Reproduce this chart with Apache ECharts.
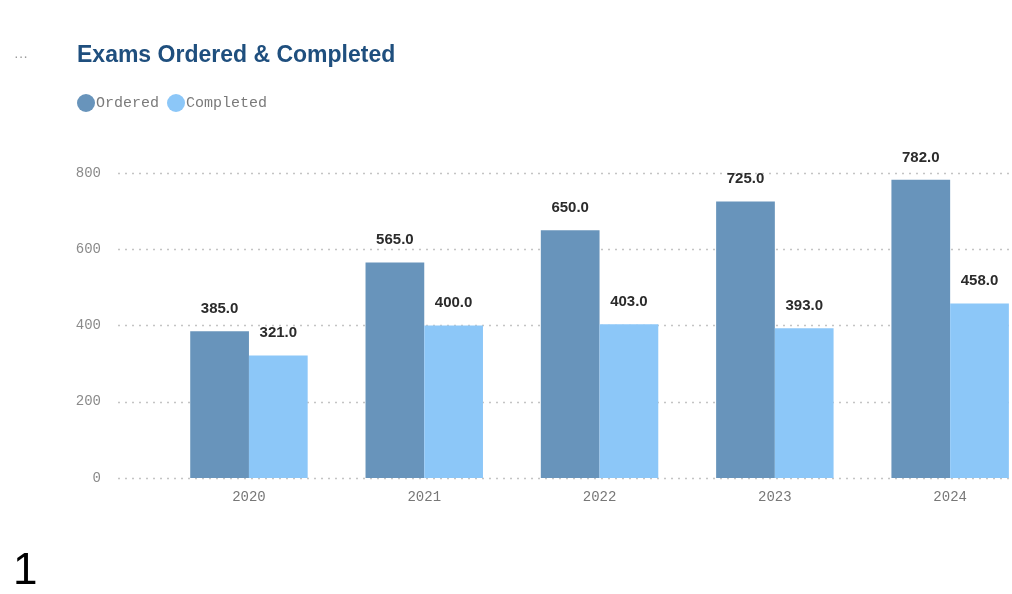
<!DOCTYPE html>
<html>
<head>
<meta charset="utf-8">
<title>Exams Ordered &amp; Completed</title>
<script src="https://cdn.jsdelivr.net/npm/echarts@6/dist/echarts.min.js"></script>
<style>
  html, body { margin: 0; padding: 0; background: #ffffff; overflow: hidden; width: 1012px; height: 594px; }
  /* the plot runs on past the right edge of the window */
  #chart { width: 1040px; height: 594px; }
</style>
</head>
<body>
<div id="chart"></div>
<script>
// Yearly exam counts
const years = ['2020', '2021', '2022', '2023', '2024'];
const ordered = [385, 565, 650, 725, 782];
const completed = [321, 400, 403, 393, 458];
const yTicks = [0, 200, 400, 600, 800];

const COLOR_ORDERED = '#6894bb';
const COLOR_COMPLETED = '#8cc7f8';
const MONO = '"Liberation Mono", "Courier New", monospace';
const SANS = '"Liberation Sans", Arial, sans-serif';

const chart = echarts.init(document.getElementById('chart'), null, { renderer: 'canvas' });

const valueLabel = {
  show: true,
  position: 'top',
  distance: 15,
  fontFamily: SANS,
  fontWeight: 'bold',
  fontSize: 15,
  color: '#2b2b2b',
  formatter: p => p.value.toFixed(1)
};

chart.setOption({
  animation: false,
  backgroundColor: '#ffffff',
  title: {
    text: 'Exams Ordered & Completed',
    left: 72,
    top: 39,
    textStyle: { fontFamily: SANS, fontWeight: 'bold', fontSize: 23, color: '#1f4f7e' }
  },
  legend: {
    left: 72,
    top: 89,
    icon: 'circle',
    itemWidth: 18,
    itemHeight: 18,
    itemGap: 8,
    textStyle: { fontFamily: MONO, fontSize: 15, color: '#7a7a7a', padding: [0, 0, 0, -4] },
    data: ['Ordered', 'Completed']
  },
  grid: [
    // bars
    { left: 161.3, right: 2.2, top: 173, bottom: 116, containLabel: false },
    // gridlines and value labels, wider than the bar area
    { left: 118, right: 2.2, top: 173, bottom: 116, containLabel: false }
  ],
  xAxis: [
    {
      type: 'category',
      gridIndex: 0,
      data: years,
      axisLine: { show: false },
      axisTick: { show: false },
      axisLabel: { fontFamily: MONO, fontSize: 14, color: '#777777', margin: 12 }
    },
    { type: 'value', gridIndex: 1, show: false, min: 0, max: 1 }
  ],
  yAxis: [
    { type: 'value', gridIndex: 0, min: 0, max: 800, interval: 200, show: false },
    {
      type: 'value',
      gridIndex: 1,
      min: yTicks[0],
      max: yTicks[yTicks.length - 1],
      interval: 200,
      axisLine: { show: false },
      axisTick: { show: false },
      axisLabel: { fontFamily: MONO, fontSize: 14, color: '#8a8a8a', margin: 17 },
      splitLine: { show: true, lineStyle: { color: '#c4c4c4', width: 1.3, type: [2, 5] } }
    }
  ],
  series: [
    {
      name: 'Ordered',
      type: 'bar',
      xAxisIndex: 0,
      yAxisIndex: 0,
      data: ordered,
      barGap: '0%',
      barCategoryGap: '33%',
      itemStyle: { color: COLOR_ORDERED },
      label: valueLabel
    },
    {
      name: 'Completed',
      type: 'bar',
      xAxisIndex: 0,
      yAxisIndex: 0,
      data: completed,
      barGap: '0%',
      barCategoryGap: '33%',
      itemStyle: { color: COLOR_COMPLETED },
      label: valueLabel
    }
  ],
  graphic: [
    {
      type: 'text',
      left: 14,
      top: 50,
      style: { text: '···', fontFamily: SANS, fontSize: 14, fill: '#9a9a9a' }
    },
    {
      type: 'text',
      left: 13,
      top: 550,
      style: { text: '1', fontFamily: SANS, fontSize: 44, fill: '#000000' }
    }
  ]
});
</script>
</body>
</html>
